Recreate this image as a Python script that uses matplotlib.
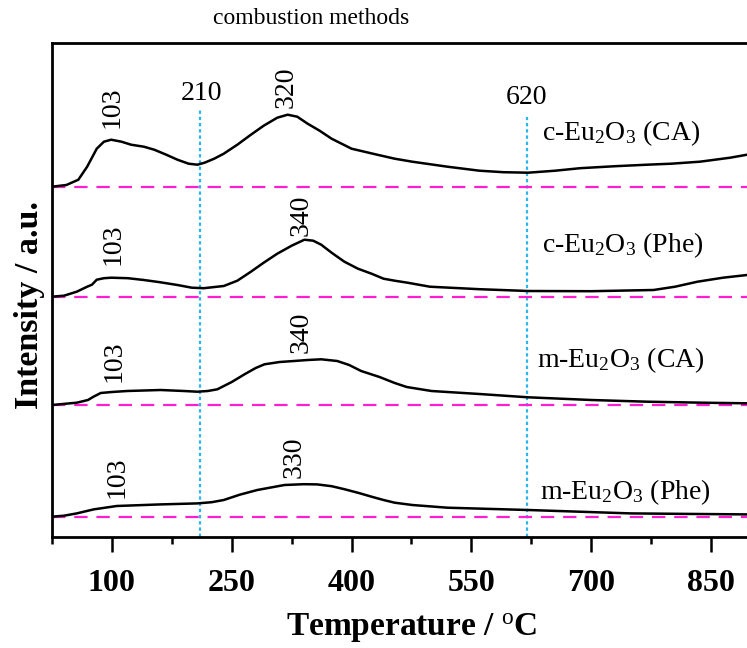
import matplotlib
matplotlib.use("Agg")
import matplotlib.pyplot as plt

plt.rcParams['font.family'] = ['Liberation Serif', 'DejaVu Serif']
plt.rcParams['mathtext.fontset'] = 'custom'
plt.rcParams['mathtext.rm'] = 'Liberation Serif'
plt.rcParams['mathtext.default'] = 'regular'

# ---- data (intensity in arbitrary units, relative to each baseline) ----
t_cCA = [25, 43, 58, 69, 81, 90, 99, 112, 124, 140, 153, 168, 182, 196, 207, 216, 228, 240, 257, 274,
         290, 307, 320, 332, 345, 360, 375, 400, 432, 454, 476, 520, 560, 590, 621, 655, 686, 730,
         770, 800, 836, 874, 895]
i_cCA = [0, 1.7, 7, 20, 38, 45, 47, 45, 42, 40, 37, 32, 27, 23, 22, 24, 28, 33, 42, 52,
         61, 69, 72, 70, 63, 56, 48, 38, 32, 28, 25, 20, 16, 14.5, 14, 16, 18.5, 20.5,
         22, 23, 25, 29, 32]

t_cPhe = [25, 40, 56, 69, 75, 81, 90, 99, 120, 140, 160, 182, 200, 215, 240, 257, 274, 290, 307, 325,
          341, 352, 362, 375, 391, 408, 425, 440, 454, 470, 498, 560, 621, 700, 778, 805, 833, 865, 895]
i_cPhe = [0, 1, 5, 10, 12, 17, 18.5, 19, 18.5, 16.7, 14.5, 11.7, 9, 8.5, 10.7, 16, 25, 34, 43, 51,
          57, 56, 52, 44, 35, 28, 23, 18, 16, 14, 10, 7.5, 5.7, 5.5, 6.7, 10, 15, 19, 21.7]

t_mCA = [25, 56, 70, 77, 86, 100, 119, 161, 190, 207, 220, 232, 250, 266, 280, 291, 310, 328, 345,
         362, 382, 397, 412, 435, 454, 469, 500, 560, 621, 700, 770, 840, 895]
i_mCA = [0, 2.3, 5, 8.3, 12, 13, 14, 15, 14, 13.3, 14, 15.7, 23, 30.7, 37, 40.7, 43, 44, 45,
         45.7, 44, 40, 34, 28, 22, 18, 14, 11, 7.7, 5, 3.3, 2.3, 1.7]

t_mPhe = [25, 40, 56, 77, 106, 161, 207, 225, 240, 260, 282, 316, 340, 357, 375, 391, 410, 425,
          440, 454, 476, 520, 621, 749, 820, 895]
i_mPhe = [0, 1, 3.3, 7.3, 10.7, 12.3, 13.3, 14.5, 16.7, 22, 26.7, 31.7, 32.5, 32.3, 30.5, 27.5, 23.5, 20,
          16.7, 14, 11.7, 9, 6.7, 3.3, 2.8, 2.3]

offsets = [330, 220, 111.7, 0]          # c-CA, c-Phe, m-CA, m-Phe
names = [r'c-Eu$_2$O$_3$ (CA)', r'c-Eu$_2$O$_3$ (Phe)', r'm-Eu$_2$O$_3$ (CA)', r'm-Eu$_2$O$_3$ (Phe)']
series_t = [t_cCA, t_cPhe, t_mCA, t_mPhe]
series_i = [i_cCA, i_cPhe, i_mCA, i_mPhe]

# peak labels: (temperature position, height, text) per series
peak_labels = [
    [(100, 409.7, '103'), (318, 429.7, '320')],
    [(102, 272.7, '103'), (337, 301.7, '340')],
    [(102.5, 155.7, '103'), (337, 184.7, '340')],
    [(106, 39.7, '103'), (328, 59.7, '330')],
]
name_pos = [(639, 383.7), (638, 271.7), (632, 156.7), (636, 24.7)]

vlines_t = [210, 620]
vlines_top = [408.7, 399.7]
vline_text_pos = [(211.6, 423.7), (619, 419.7)]

major_ticks = [100, 250, 400, 550, 700, 850]
minor_ticks = [25, 175, 325, 475, 625, 775]

# ---- figure ----
fig = plt.figure(figsize=(7.47, 6.48), dpi=100)
ax = fig.add_axes([52 / 747, 111 / 648, 1 - 52 / 747, 494 / 648])

for t, i, off in zip(series_t, series_i, offsets):
    ax.plot(t, [v + off for v in i], color='black', lw=1.8, zorder=3)
    ax.plot([25, 895], [off, off], color='#ff1fd0', lw=1.6, dashes=(6, 4), zorder=2)

for x, top, (tx, ty) in zip(vlines_t, vlines_top, vline_text_pos):
    ax.plot([x, x], [-20.3, top], color='#2cb5ec', lw=1.6, dashes=(1.5, 1.3), zorder=1)
    ax.text(tx, ty, str(x), ha='center', va='center', fontsize=20)

for labs in peak_labels:
    for tx, ty, s in labs:
        ax.text(tx, ty, s, rotation=90, ha='center', va='center', fontsize=20)

for (tx, ty), nm in zip(name_pos, names):
    ax.text(tx, ty, nm, ha='left', va='center', fontsize=20)

ax.set_xlim(25, 895)
ax.set_ylim(-20.3, 473.7)
ax.set_xticks(major_ticks)
ax.set_xticks(minor_ticks, minor=True)
ax.set_yticks([])
ax.tick_params(axis='x', which='major', direction='out', length=11, width=1.8, pad=12)
ax.tick_params(axis='x', which='minor', direction='out', length=5, width=1.8)
for lab in ax.get_xticklabels():
    lab.set_fontsize(23)
    lab.set_fontweight('bold')
for side in ['left', 'bottom', 'top']:
    ax.spines[side].set_linewidth(2)
ax.spines['right'].set_visible(False)

fig.text(30 / 747, 1 - 305 / 648, 'Intensity / a.u.', rotation=90, ha='center', va='center',
         fontsize=24.5, fontweight='bold')
fig.text(412 / 747, 1 - 628 / 648, r'Temperature / $^{\rm o}$C', ha='center', va='center',
         fontsize=24, fontweight='bold')
fig.text(311 / 747, 1 - 18 / 648, 'combustion methods', ha='center', va='center', fontsize=17)

fig.savefig('out.png', dpi=100)
